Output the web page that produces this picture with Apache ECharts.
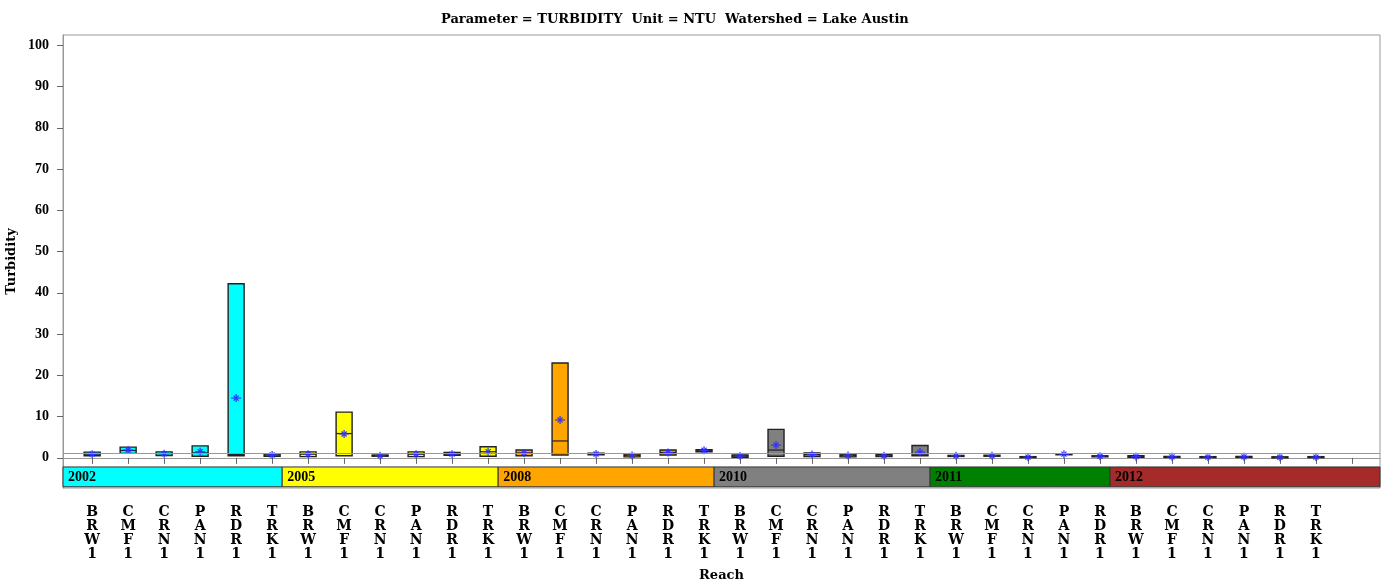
<!DOCTYPE html>
<html>
<head>
<meta charset="utf-8">
<title>Turbidity - Lake Austin</title>
<script src="https://cdn.jsdelivr.net/npm/echarts@6/dist/echarts.min.js"></script>
<style>
    html, body {margin: 0; padding: 0; background: #fff;}
    #chart {width: 1389px; height: 584px;}
</style>
</head>
<body>
<div id="chart"></div>
<script>
// data
var years = ['2002', '2005', '2008', '2010', '2011', '2012'];
var yearColors = ['#00ffff', '#ffff00', '#ffa500', '#808080', '#008000', '#a52a2a'];
var reaches = [
    'BRW1','CMF1','CRN1','PAN1','RDR1','TRK1',
    'BRW1','CMF1','CRN1','PAN1','RDR1','TRK1',
    'BRW1','CMF1','CRN1','PAN1','RDR1','TRK1',
    'BRW1','CMF1','CRN1','PAN1','RDR1','TRK1',
    'BRW1','CMF1','CRN1','PAN1','RDR1',
    'BRW1','CMF1','CRN1','PAN1','RDR1','TRK1'
];
var reachYear = [
    0,0,0,0,0,0,
    1,1,1,1,1,1,
    2,2,2,2,2,2,
    3,3,3,3,3,3,
    4,4,4,4,4,
    5,5,5,5,5,5
];
var boxLow = [
    0.5, 1.1, 0.55, 0.4, 0.5, 0.4,
    0.3, 0.5, 0.4, 0.3, 0.65, 0.4,
    0.5, 0.7, 0.75, 0.25, 0.7, 1.5,
    0.15, 0.4, 0.3, 0.25, 0.3, 0.5,
    0.4, 0.4, 0.1, 0.8, 0.3,
    0.15, 0.15, 0.1, 0.15, 0.05, 0.1
];
var boxHigh = [
    1.4, 2.6, 1.45, 2.9, 42.2, 1.0,
    1.45, 11.1, 0.7, 1.45, 1.3, 2.7,
    1.9, 23.0, 1.15, 0.9, 1.9, 2.0,
    0.7, 6.9, 1.2, 0.95, 0.8, 3.0,
    0.6, 0.65, 0.3, 1.0, 0.5,
    0.55, 0.35, 0.3, 0.35, 0.25, 0.3
];
var boxMedian = [
    0.9, 1.8, 1.0, 1.2, 0.8, 0.7,
    0.9, 5.9, 0.55, 0.9, 0.9, 1.5,
    1.2, 4.1, 0.95, 0.6, 1.3, 1.75,
    0.45, 1.9, 0.8, 0.55, 0.5, 0.7,
    0.5, 0.5, 0.2, 0.9, 0.4,
    0.3, 0.25, 0.2, 0.25, 0.15, 0.2
];
var boxMean = [
    0.9, 1.9, 1.0, 1.5, 14.5, 0.7,
    0.9, 5.8, 0.5, 0.9, 0.9, 1.5,
    1.2, 9.2, 0.95, 0.6, 1.3, 1.85,
    0.45, 3.1, 0.8, 0.55, 0.5, 1.4,
    0.5, 0.5, 0.2, 0.9, 0.4,
    0.3, 0.25, 0.2, 0.25, 0.15, 0.2
];
var overallMean = 1.2;
var yTicks = [0, 10, 20, 30, 40, 50, 60, 70, 80, 90, 100];

var FONT = 'DejaVu Serif';
var NUM_FONT = 'Liberation Serif';
var xMin = 0.19, xMax = 36.78;
var yMin = -7.3, yMax = 102.5;
var bandTop = -2.2, bandBottom = -7.0;

var boxData = [];
var tickPos = [];
var labelPos = [];
for (var i = 0; i < reaches.length; i++) {
    boxData.push([i + 1, boxLow[i], boxHigh[i], boxMedian[i], boxMean[i], reachYear[i]]);
    tickPos.push(i + 1);
    labelPos.push(i + 1);
}
tickPos.push(reaches.length + 1);

// year bands along the bottom of the plot
var bandData = [];
for (var y = 0; y < years.length; y++) {
    var first = reachYear.indexOf(y) + 1;
    var last = reachYear.lastIndexOf(y) + 1;
    var start = y === 0 ? xMin : first - 0.72;
    var end = y === years.length - 1 ? xMax : last + 0.28;
    bandData.push([start, end, y]);
}

function renderBand(params, api) {
    var p1 = api.coord([api.value(0), bandTop]);
    var p2 = api.coord([api.value(1), bandBottom]);
    var idx = api.value(2);
    return {
        type: 'group',
        children: [{
            type: 'rect',
            shape: {x: p1[0], y: p1[1], width: p2[0] - p1[0], height: p2[1] - p1[1]},
            style: {fill: yearColors[idx], stroke: '#333', lineWidth: 1}
        }, {
            type: 'text',
            x: p1[0] + 5,
            y: (p1[1] + p2[1]) / 2 + 1,
            style: {
                text: years[idx], fill: '#000', font: 'bold 14px "' + NUM_FONT + '"',
                verticalAlign: 'middle', align: 'left'
            }
        }]
    };
}

function renderBox(params, api) {
    var x = api.value(0);
    var pLo = api.coord([x, api.value(1)]);
    var pHi = api.coord([x, api.value(2)]);
    var pMed = api.coord([x, api.value(3)]);
    var pMean = api.coord([x, api.value(4)]);
    var idx = api.value(5);
    var w = 16;
    var h = Math.max(pLo[1] - pHi[1], 1);
    var cx = pMean[0], cy = pMean[1], r = 4;
    var star = {stroke: '#3030ff', lineWidth: 1.2};
    return {
        type: 'group',
        children: [{
            type: 'rect',
            shape: {x: pLo[0] - w / 2, y: pHi[1], width: w, height: h},
            style: {fill: yearColors[idx], stroke: '#222', lineWidth: 1.4}
        }, {
            type: 'line',
            shape: {x1: pMed[0] - w / 2, y1: pMed[1], x2: pMed[0] + w / 2, y2: pMed[1]},
            style: {stroke: '#222', lineWidth: 1.2}
        }, {
            type: 'line',
            shape: {x1: cx - r - 1, y1: cy, x2: cx + r + 1, y2: cy},
            style: star
        }, {
            type: 'line',
            shape: {x1: cx, y1: cy - r, x2: cx, y2: cy + r},
            style: star
        }, {
            type: 'line',
            shape: {x1: cx - 2.5, y1: cy - 2.5, x2: cx + 2.5, y2: cy + 2.5},
            style: star
        }, {
            type: 'line',
            shape: {x1: cx - 2.5, y1: cy + 2.5, x2: cx + 2.5, y2: cy - 2.5},
            style: star
        }]
    };
}

var myChart = echarts.init(document.getElementById('chart'), null, {renderer: 'canvas'});
var option = {
    backgroundColor: '#fff',
    animation: false,
    title: {
        text: 'Parameter = TURBIDITY  Unit = NTU  Watershed = Lake Austin',
        left: 436,
        top: 8,
        textStyle: {fontFamily: FONT, fontWeight: 'bold', fontSize: 13, color: '#000'}
    },
    grid: {
        left: 63, right: 9, top: 35, bottom: 96,
        outerBoundsMode: 'none',
        containLabel: false,
        show: true, borderColor: '#999', borderWidth: 1
    },
    xAxis: {
        type: 'value',
        min: xMin, max: xMax,
        name: 'Reach',
        nameLocation: 'middle',
        nameGap: 81,
        nameMoveOverlap: false,
        nameTextStyle: {fontFamily: FONT, fontWeight: 'bold', fontSize: 13, color: '#000'},
        axisLine: {show: true, lineStyle: {color: '#999'}},
        axisTick: {show: true, customValues: tickPos, length: 6, lineStyle: {color: '#666'}},
        axisLabel: {
            customValues: labelPos,
            margin: 17,
            fontFamily: FONT, fontWeight: 'bold', fontSize: 14, lineHeight: 14, color: '#000',
            formatter: function (v) {
                var name = reaches[Math.round(v) - 1];
                return name ? name.split('').join('\n') : '';
            }
        },
        splitLine: {show: false}
    },
    yAxis: {
        type: 'value',
        min: yMin, max: yMax,
        name: 'Turbidity',
        nameLocation: 'middle',
        nameGap: 45,
        nameMoveOverlap: false,
        nameTextStyle: {fontFamily: FONT, fontWeight: 'bold', fontSize: 13, color: '#000'},
        axisLine: {show: true, lineStyle: {color: '#999'}},
        axisTick: {show: true, customValues: yTicks, length: 6, lineStyle: {color: '#666'}},
        axisLabel: {
            customValues: yTicks,
            margin: 14,
            fontFamily: NUM_FONT, fontWeight: 'bold', fontSize: 14, color: '#000'
        },
        splitLine: {show: false}
    },
    series: [
        {
            type: 'custom',
            name: 'years',
            z: 1,
            renderItem: renderBand,
            encode: {x: [0, 1]},
            data: bandData,
            silent: true,
            markLine: {
                silent: true,
                symbol: 'none',
                label: {show: false},
                lineStyle: {color: '#999', width: 1, type: 'solid'},
                data: [{yAxis: overallMean}]
            }
        },
        {
            type: 'custom',
            name: 'Turbidity',
            z: 2,
            renderItem: renderBox,
            encode: {x: 0, y: [1, 2]},
            data: boxData
        }
    ]
};
myChart.setOption(option);
</script>
</body>
</html>
